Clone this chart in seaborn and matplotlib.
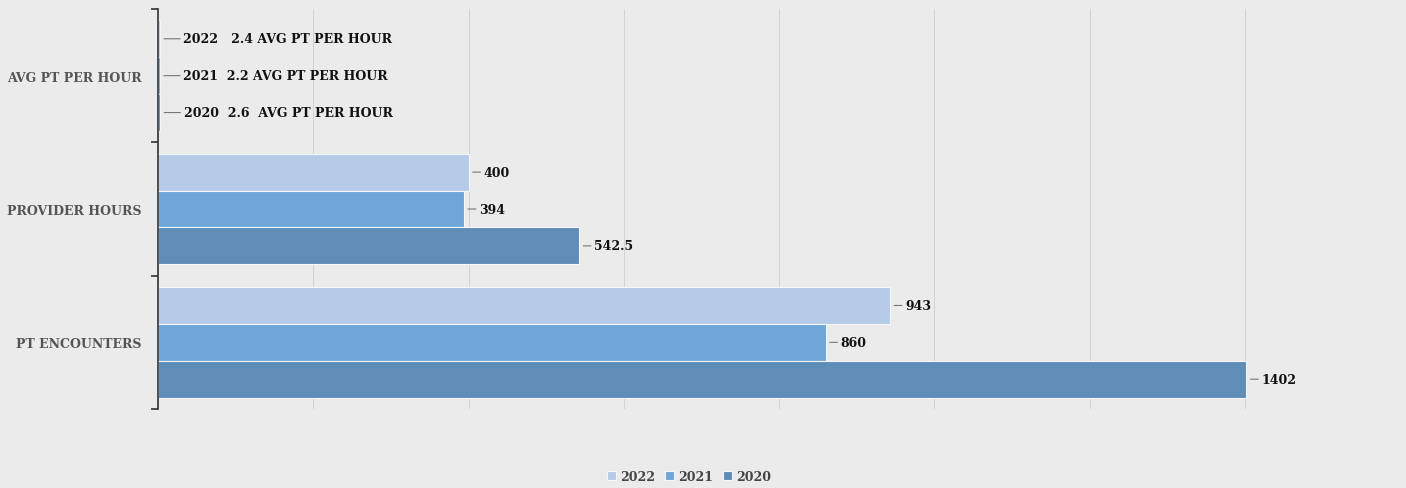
import matplotlib
matplotlib.use("Agg")
import matplotlib.pyplot as plt
import seaborn as sns
import pandas as pd
from matplotlib.ticker import MultipleLocator, FixedLocator

categories = ["AVG PT PER HOUR", "PROVIDER HOURS", "PT ENCOUNTERS"]
years = ["2022", "2021", "2020"]
values_2022 = [2.4, 400, 943]
values_2021 = [2.2, 394, 860]
values_2020 = [2.6, 542.5, 1402]
labels_2022 = ["2022   2.4 AVG PT PER HOUR", "400", "943"]
labels_2021 = ["2021  2.2 AVG PT PER HOUR", "394", "860"]
labels_2020 = ["2020  2.6  AVG PT PER HOUR", "542.5", "1402"]
colors = {"2022": "#b6cbe7", "2021": "#6da6d9", "2020": "#5f8db8"}

rows = []
for yr, vals, labs in zip(years, [values_2022, values_2021, values_2020],
                          [labels_2022, labels_2021, labels_2020]):
    for c, v, l in zip(categories, vals, labs):
        rows.append({"category": c, "year": yr, "value": v, "label": l})
df = pd.DataFrame(rows)

sns.set_theme(style="white")
plt.rcParams["font.family"] = ["DejaVu Serif"]

bg = "#ebebeb"
fig = plt.figure(figsize=(14.06, 4.89), dpi=100, facecolor=bg)
ax = fig.add_axes([158 / 1406, 1 - 410 / 489, (1400 - 158) / 1406, 400 / 489])
ax.set_facecolor(bg)

sns.barplot(data=df, y="category", x="value", hue="year", hue_order=years,
            order=categories, palette=colors, orient="h", width=0.83,
            edgecolor="#f4f6fa", linewidth=0.8, saturation=1, ax=ax)

ax.set_xlim(0, 1600)
ax.set_ylim(2.5, -0.5)
ax.xaxis.set_major_locator(MultipleLocator(200))
ax.grid(axis="x", color="#d2d2d2", linewidth=0.7)
ax.grid(axis="y", visible=False)
ax.set_axisbelow(True)
ax.tick_params(axis="x", length=0, labelbottom=False)
ax.set_xlabel("")
ax.set_ylabel("")

for s in ["top", "right", "bottom"]:
    ax.spines[s].set_visible(False)
ax.spines["left"].set_color("#333333")
ax.spines["left"].set_linewidth(1.2)

ax.yaxis.set_minor_locator(FixedLocator([-0.5, 0.5, 1.5, 2.5]))
ax.tick_params(axis="y", which="minor", length=5, width=1.2, color="#333333", left=True)
ax.tick_params(axis="y", which="major", length=0, pad=12)
for t in ax.get_yticklabels():
    t.set_fontweight("bold")
    t.set_fontsize(9)
    t.set_color("#555555")

# data labels with leader lines
for container, yr in zip(ax.containers, years):
    sub = df[df["year"] == yr].set_index("category").loc[categories]
    for bar, (_, r) in zip(container, sub.iterrows()):
        yc = bar.get_y() + bar.get_height() / 2
        small = r["value"] < 50
        off = 17 if small else 11
        ax.annotate(r["label"], xy=(bar.get_width(), yc), xytext=(off, 0),
                    textcoords="offset points", va="center", ha="left",
                    fontsize=9, fontweight="bold", color="#111111",
                    arrowprops=dict(arrowstyle="-", color="#777777", lw=0.8,
                                    shrinkA=0, shrinkB=3))

leg = ax.legend(loc="upper center", bbox_to_anchor=(0.4275, -0.125), ncol=3,
                frameon=False, handlelength=0.75, handleheight=0.75,
                handletextpad=0.3, columnspacing=0.8,
                prop={"weight": "bold", "size": 9})
for t in leg.get_texts():
    t.set_color("#444444")

fig.savefig("out.png", dpi=100, facecolor=bg)
